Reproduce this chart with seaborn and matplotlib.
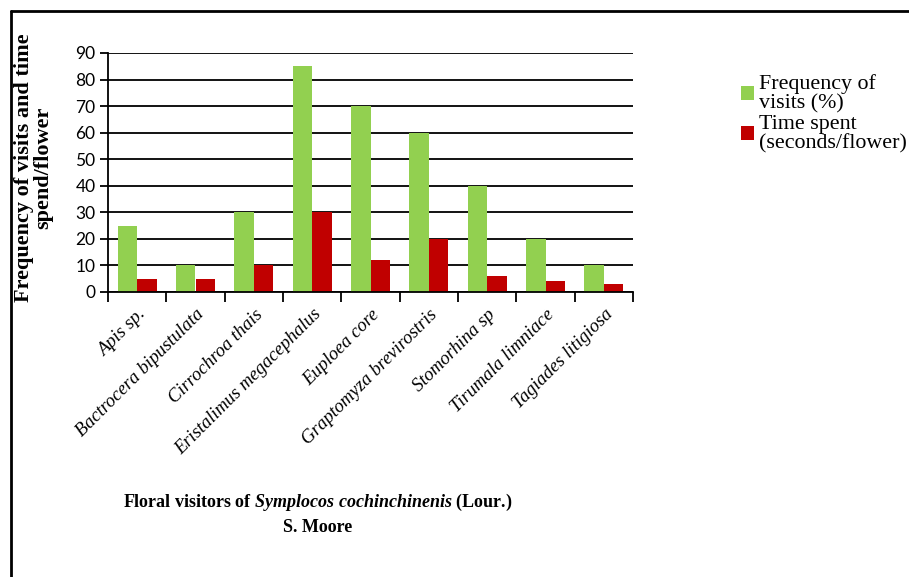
import numpy as np
import pandas as pd
import seaborn as sns
import matplotlib.pyplot as plt
from matplotlib.lines import Line2D
from matplotlib.patches import Patch

# === DATA ===
visitors = ['Apis sp.', 'Bactrocera bipustulata', 'Cirrochroa thais',
            'Eristalimus megacephalus', 'Euploea core', 'Graptomyza brevirostris',
            'Stomorhina sp', 'Tirumala limniace', 'Tagiades litigiosa']
freq_visits = [25, 10, 30, 85, 70, 60, 40, 20, 10]
time_spent = [5, 5, 10, 30, 12, 20, 6, 4, 3]
series_names = ['Frequency of\nvisits (%)', 'Time spent\n(seconds/flower)']
colors = ['#92D050', '#C00000']
y_ticks = [0, 10, 20, 30, 40, 50, 60, 70, 80, 90]

df = pd.DataFrame({'visitor': visitors * 2,
                   'value': freq_visits + time_spent,
                   'series': [series_names[0]] * len(visitors) + [series_names[1]] * len(visitors)})

sns.set_style('white')
plt.rcParams['font.family'] = ['Liberation Serif', 'DejaVu Serif']
plt.rcParams['text.color'] = 'black'
plt.rcParams['xtick.color'] = 'black'
plt.rcParams['ytick.color'] = 'black'
plt.rcParams['mathtext.fontset'] = 'custom'
plt.rcParams['mathtext.it'] = 'Liberation Serif:italic:bold'
plt.rcParams['mathtext.rm'] = 'Liberation Serif:bold'

fig = plt.figure(figsize=(9.09, 5.77), dpi=100)
ax = fig.add_axes([108 / 909, 1 - 292 / 577, (633 - 108) / 909, (292 - 53) / 577])

sns.barplot(data=df, x='visitor', y='value', hue='series', palette=colors,
            width=0.67, saturation=1, linewidth=0, edgecolor='none', ax=ax, legend=False)

# axes styling
ax.set_xlim(-0.5, len(visitors) - 0.5)
ax.set_ylim(0, 90)
ax.set_yticks(y_ticks)
ax.set_yticklabels([str(t) for t in y_ticks], family='Lato', fontsize=12.5)
ax.yaxis.grid(True, color='black', linewidth=1.3)
ax.set_axisbelow(True)
for s in ['top', 'right']:
    ax.spines[s].set_visible(False)
for s in ['left', 'bottom']:
    ax.spines[s].set_color('black')
    ax.spines[s].set_linewidth(1.3)
ax.tick_params(axis='y', which='major', length=6, width=1.3, pad=3, left=True)
ax.set_xticks(np.arange(len(visitors)))
ax.set_xticklabels(visitors, rotation=45, ha='right', rotation_mode='anchor',
                   style='italic', fontsize=13.5)
ax.tick_params(axis='x', which='major', length=0, pad=10)
ax.set_xticks(np.arange(len(visitors) + 1) - 0.5, minor=True)
ax.tick_params(axis='x', which='minor', length=7, width=1.3, bottom=True)
ax.set_xlabel('')
ax.set_ylabel('')

# axis titles
fig.text(34 / 909, 1 - 168 / 577, 'Frequency of visits and time\nspend/flower',
         rotation=90, ha='center', va='center', fontsize=16, fontweight='bold',
         linespacing=0.95)
fig.text(318 / 909, 1 - 514 / 577,
         r'Floral visitors of $\mathit{Symplocos\ cochinchinenis}$ (Lour.)' + '\nS. Moore',
         ha='center', va='center', fontsize=13, fontweight='bold', linespacing=1.5,
         multialignment='center')

# legend
handles = [Patch(facecolor=c, edgecolor='none') for c in colors]
leg = fig.legend(handles, series_names, loc='upper left', bbox_to_anchor=(741 / 909, 1 - 74 / 577),
                 frameon=False, fontsize=15.8, handlelength=0.6, handleheight=0.6,
                 handletextpad=0.2, labelspacing=0.06, borderaxespad=0, borderpad=0)
for t in leg.get_texts():
    t.set_linespacing(1.02)

# outer frame (left and top edges visible)
fig.add_artist(Line2D([11 / 909, 11 / 909], [0, 1 - 11 / 577], color='black', linewidth=2))
fig.add_artist(Line2D([11 / 909, 1], [1 - 11 / 577, 1 - 11 / 577], color='black', linewidth=2))

fig.savefig('out.png', dpi=100)
